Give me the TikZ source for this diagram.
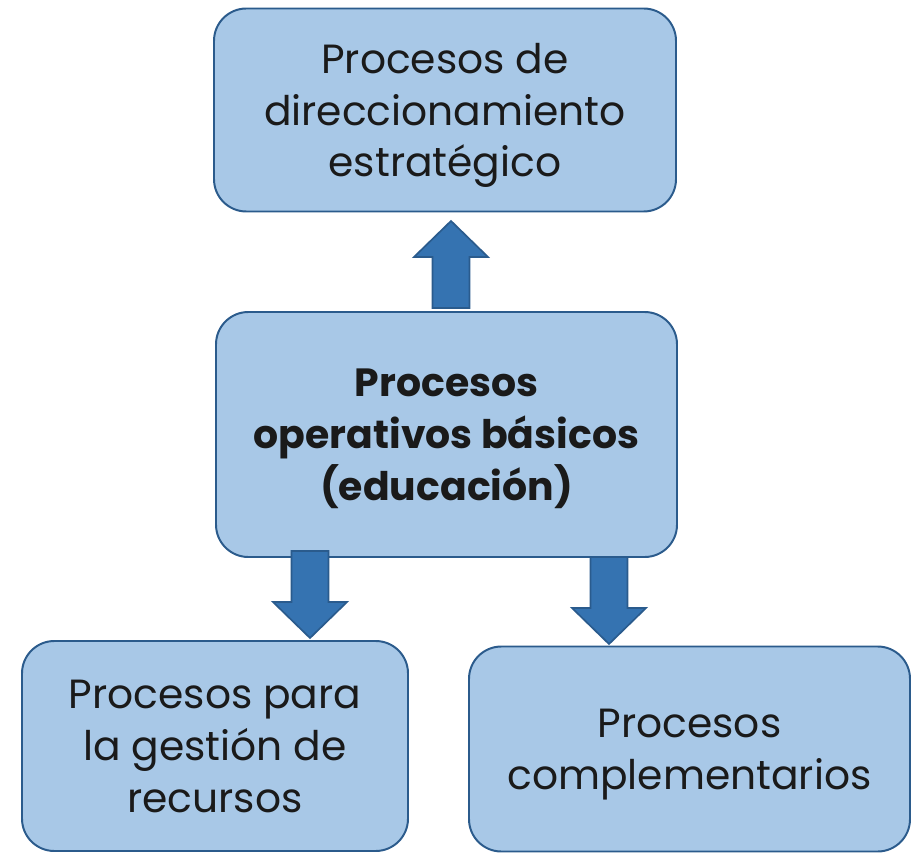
\documentclass[tikz,border=0pt]{standalone}
\usepackage{fontspec}
\setmainfont{Poppins}
\usepackage{tikz}
\usetikzlibrary{positioning}
\definecolor{procfill}{HTML}{A8C8E7}
\definecolor{procdraw}{HTML}{2B5B8C}
\definecolor{proctxt}{HTML}{1A1A1A}
\definecolor{arrfill}{HTML}{3573B1}
\definecolor{arrdraw}{HTML}{2A5B8D}
\tikzset{
  procbox/.style={draw=procdraw, fill=procfill, text=proctxt, rounded corners=23pt, line width=1.4pt, align=center, inner sep=0pt, text depth=0pt},
  proctext/.style={font=\fontsize{29}{36.9}\selectfont},
  blockarrow/.pic={
    \draw[draw=arrdraw, fill=arrfill, line width=1.2pt, line join=miter]
      (0,0) -- (37,36) -- (18.5,36) -- (18.5,87) -- (-18.5,87) -- (-18.5,36) -- (-37,36) -- cycle;
  }
}
\begin{document}
\begin{tikzpicture}[x=0.025cm, y=-0.025cm]
  \useasboundingbox (0,0) rectangle (919,853);

  \node[procbox, proctext, minimum width=462*0.025cm, minimum height=203*0.025cm] (strat) at (445,110)
    {Procesos de\\direccionamiento\\estratégico};
  \node[procbox, font=\fontsize{28}{36.9}\selectfont\bfseries, minimum width=461*0.025cm, minimum height=245*0.025cm] (oper) at (446.5,434.5)
    {Procesos\\operativos básicos\\(educación)};
  \node[procbox, proctext, minimum width=386*0.025cm, minimum height=210*0.025cm] (recur) at (215,746)
    {Procesos para\\la gestión de\\recursos};
  \node[procbox, proctext, minimum width=441*0.025cm, minimum height=205*0.025cm] (compl) at (689.5,749)
    {Procesos\\complementarios};

  % block arrows between the boxes
  \pic at (451,221) {blockarrow};
  \pic[rotate=180] at (310,638) {blockarrow};
  \pic[rotate=180] at (609,644) {blockarrow};
\end{tikzpicture}
\end{document}
